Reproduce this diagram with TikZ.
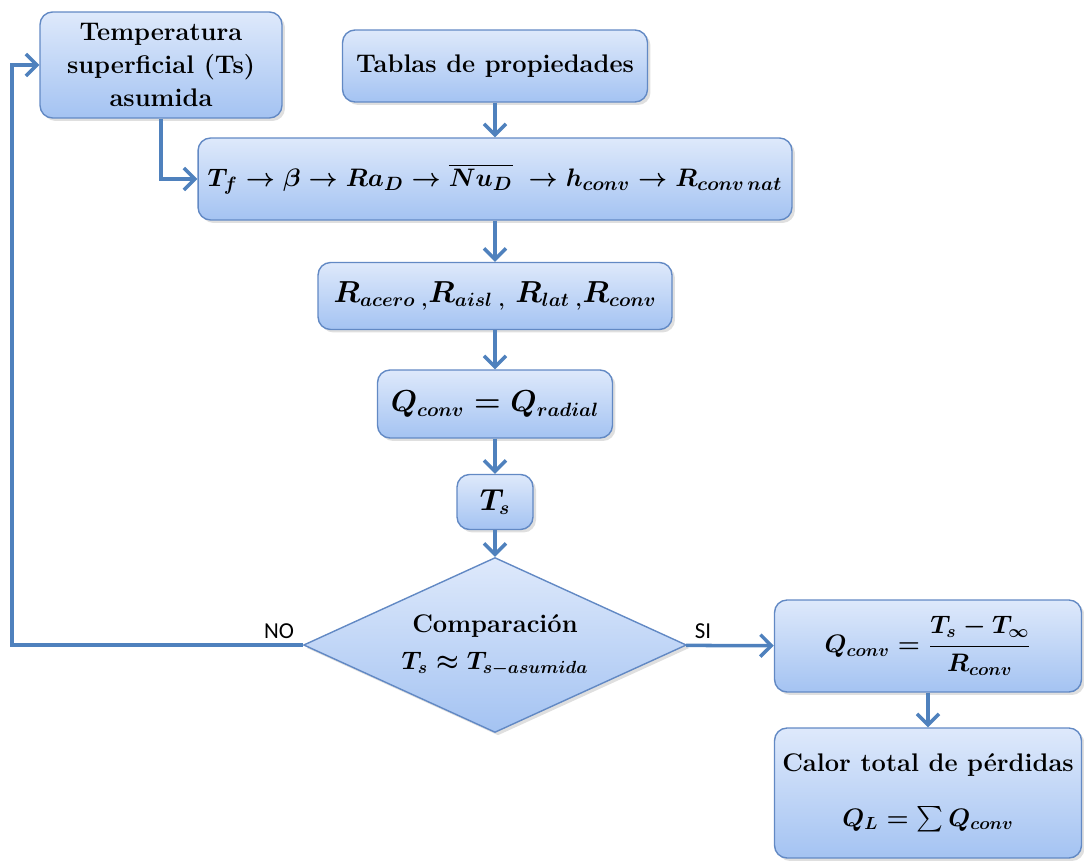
\documentclass[tikz,border=0pt]{standalone}
\usepackage{amsmath,amssymb}
\usepackage{fontspec}
\newfontfamily\etiqueta{Carlito}
\usetikzlibrary{arrows.meta, positioning, shapes.geometric, shadows}

\definecolor{cajaarriba}{RGB}{222,233,251}
\definecolor{cajaabajo}{RGB}{164,195,242}
\definecolor{borde}{RGB}{98,137,196}
\definecolor{linea}{RGB}{79,129,189}

\tikzset{
  caja/.style={draw=borde, line width=0.8pt, rounded corners=0.25cm,
    top color=cajaarriba, bottom color=cajaabajo, align=center, inner sep=0pt,
    font=\fontsize{14.5}{19}\selectfont\bfseries\boldmath,
    drop shadow={opacity=0.25, shadow xshift=0.6mm, shadow yshift=-0.6mm}},
  mat/.style={font=\fontsize{16}{19}\selectfont\bfseries\boldmath},
  decision/.style={caja, diamond, aspect=2.2, rounded corners=0pt},
  flecha/.style={draw=linea, line width=2pt,
    -{Straight Barb[length=2.2mm, width=4.4mm]}},
  siono/.style={font=\etiqueta\fontsize{13}{15}\selectfont}
}

\begin{document}
\begin{tikzpicture}[x=0.02cm, y=-0.02cm]
  \useasboundingbox (0,0) rectangle (1084,861);

  % Cajas del calculo
  \node[caja, minimum width=4.84cm, minimum height=2.12cm] (tsasumida) at (161,65)
    {Temperatura\\superficial (Ts)\\asumida};
  \node[caja, minimum width=6.1cm, minimum height=1.44cm] (tablas) at (495,66)
    {Tablas de propiedades};
  \node[caja, font=\fontsize{15}{19}\selectfont\bfseries\boldmath,
    minimum width=11.88cm, minimum height=1.64cm] (cadena) at (495,179)
    {$T_f \rightarrow \beta \rightarrow Ra_D \rightarrow \overline{Nu_D}\;
      \rightarrow h_{conv} \rightarrow R_{conv\,nat}$};
  \node[caja, mat, minimum width=7.08cm, minimum height=1.34cm] (resist) at (495,296)
    {$R_{acero}\,{}_{,}R_{aisl}\,{}_{,}\;R_{lat}\,{}_{,}R_{conv}$};
  \node[caja, mat, minimum width=4.7cm, minimum height=1.36cm] (balance) at (495,404)
    {$Q_{conv} = Q_{radial}$};
  \node[caja, mat, minimum width=1.52cm, minimum height=1.1cm] (ts) at (495,502)
    {$T_s$};

  % Decision
  \node[decision, minimum width=7.66cm, minimum height=3.5cm] (comp) at (495,645)
    {Comparación\\[2pt]$T_s \approx T_{s-asumida}$};

  % Resultado
  \node[caja, minimum width=6.14cm, minimum height=1.84cm] (qconv) at (928,646)
    {$Q_{conv} = \dfrac{T_s - T_\infty}{R_{conv}}$};
  \node[caja, minimum width=6.14cm, minimum height=2.6cm] (total) at (928,793)
    {Calor total de pérdidas\\[12pt]$Q_L = \sum Q_{conv}$};

  % Flechas
  \draw[flecha] (tablas) -- (cadena);
  \draw[flecha] (tsasumida.south) |- (cadena.west);
  \draw[flecha] (cadena) -- (resist);
  \draw[flecha] (resist) -- (balance);
  \draw[flecha] (balance) -- (ts);
  \draw[flecha] (ts) -- (comp);
  \draw[flecha] (comp) -- (qconv);
  \draw[flecha] (qconv) -- (total);

  % Regreso cuando no se cumple
  \coordinate (vuelta) at (12,645);
  \draw[flecha] (comp.west) -- (vuelta) |- (tsasumida.west);

  \node[siono] (no) at (279,631) {NO};
  \node[siono] (si) at (703,631) {SI};
\end{tikzpicture}
\end{document}
